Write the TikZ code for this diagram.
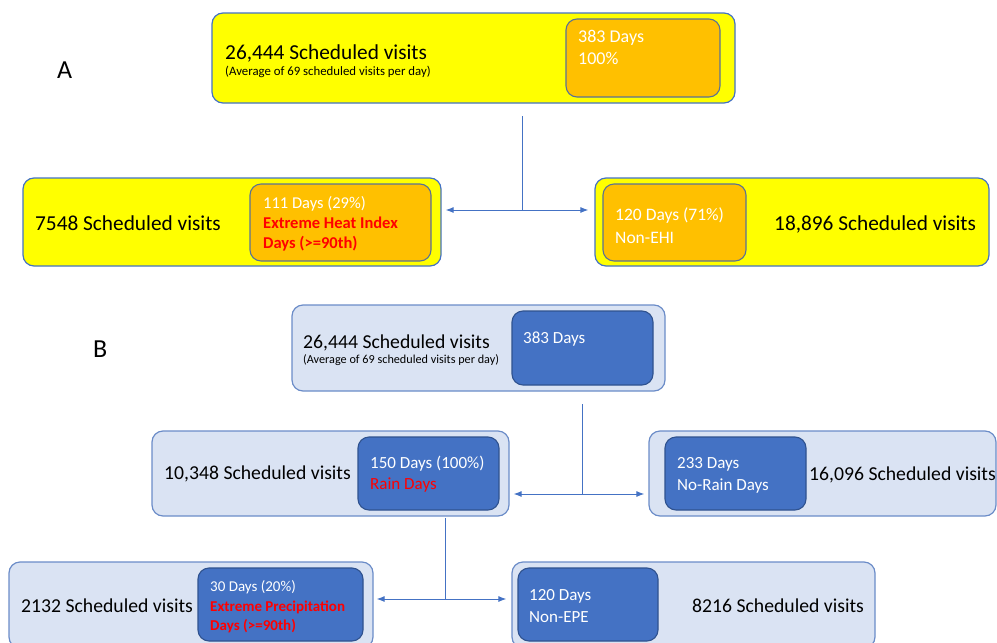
\documentclass[tikz,border=0pt]{standalone}
\usepackage{fontspec}
\setmainfont{Carlito}
\usetikzlibrary{arrows.meta}
\definecolor{boxyellow}{HTML}{FFFF00}
\definecolor{boxorange}{HTML}{FFC000}
\definecolor{paleblue}{HTML}{DAE3F3}
\definecolor{midblue}{HTML}{4472C4}
\definecolor{darkedge}{HTML}{2F528F}
\definecolor{grayedge}{HTML}{5A7294}
\definecolor{lightedge}{HTML}{6B8CC8}
\definecolor{warnred}{HTML}{FF0000}
\newcommand{\fsz}[1]{\fontsize{#1}{#1}\selectfont}

\begin{document}
\begin{tikzpicture}[x=1pt, y=-1pt,
  outerA/.style={draw=midblue, fill=boxyellow, line width=1.2pt, rounded corners=11pt, inner sep=0pt},
  innerA/.style={draw=grayedge, fill=boxorange, line width=1.1pt, rounded corners=11pt, inner sep=0pt},
  outerB/.style={draw=lightedge, fill=paleblue, line width=1.2pt, rounded corners=11pt, inner sep=0pt},
  innerB/.style={draw=darkedge, fill=midblue, line width=1.1pt, rounded corners=11pt, inner sep=0pt},
  txt/.style={anchor=base west, inner sep=0pt},
  visA/.style={txt, font=\fsz{21.3}},
  visB/.style={txt, font=\fsz{19.7}},
  noteA/.style={txt, font=\fsz{12.8}},
  noteB/.style={txt, font=\fsz{12.2}},
  dayA/.style={txt, white, font=\fsz{17.5}},
  dayB/.style={txt, white, font=\fsz{17}},
  dayS/.style={txt, white, font=\fsz{15.5}},
  warn/.style={txt, warnred, font=\bfseries\fsz{16}},
  panel/.style={txt, font=\fsz{26}},
  link/.style={draw=midblue, line width=1pt},
  twoway/.style={link, -{Latex[length=8pt,width=6pt]}}]
\useasboundingbox (0,0) rectangle (997,643);
\clip (0,0) rectangle (997,643);

% panel A
\node[panel] (labA) at (57,78) {A};
\node[outerA, minimum width=523pt, minimum height=90pt] (topA) at (473.5,58) {};
\node[innerA, minimum width=154pt, minimum height=78pt] (topAin) at (643,58) {};
\node[visA] (visA1) at (225,59) {26,444 Scheduled visits};
\node[noteA] (avgA) at (225,75) {(Average of 69 scheduled visits per day)};
\node[dayA, font=\fsz{18}] (daysA) at (578,42) {383 Days};
\node[dayA, font=\fsz{18}] (pctA) at (578,64) {100\%};

\node[outerA, minimum width=418pt, minimum height=88pt] (leftA) at (232,222) {};
\node[innerA, minimum width=181pt, minimum height=77pt] (leftAin) at (340.5,222.5) {};
\node[visA] (visA2) at (35,230) {7548 Scheduled visits};
\node[dayA, font=\fsz{16.5}] (daysA2) at (263,208) {111 Days (29\%)};
\node[warn, font=\bfseries\fsz{16.5}] (ehiA1) at (263,228) {Extreme Heat Index};
\node[warn, font=\bfseries\fsz{16.5}] (ehiA2) at (263,248) {Days (>=90th)};

\node[outerA, minimum width=394pt, minimum height=88pt] (rightA) at (792,222) {};
\node[innerA, minimum width=143pt, minimum height=77pt] (rightAin) at (674.5,222.5) {};
\node[dayA] (daysA3) at (615,220) {120 Days (71\%)};
\node[dayA] (nonA) at (615,243) {Non-EHI};
\node[visA] (visA3) at (774,230) {18,896 Scheduled visits};

\coordinate (stemA) at (522,116);
\coordinate (jA) at (522,210);
\draw[link] (stemA) -- (jA);
\draw[twoway, shorten >=4pt] (jA) -- (leftA.east |- jA);
\draw[twoway, shorten >=6pt] (jA) -- (rightA.west |- jA);

% panel B
\node[panel] (labB) at (93,357) {B};
\node[outerB, minimum width=373pt, minimum height=86pt] (topB) at (478.5,348) {};
\node[innerB, minimum width=141pt, minimum height=74pt] (topBin) at (582.5,348) {};
\node[visB] (visB1) at (303,348) {26,444 Scheduled visits};
\node[noteB] (avgB) at (303,363) {(Average of 69 scheduled visits per day)};
\node[dayB] (daysB) at (523,343) {383 Days};

\node[outerB, minimum width=357pt, minimum height=85pt] (leftB) at (330.5,473.5) {};
\node[innerB, minimum width=141pt, minimum height=73pt] (leftBin) at (428.5,473.5) {};
\node[visB] (visB2) at (164,479) {10,348 Scheduled visits};
\node[dayB] (daysB2) at (370,468) {150 Days (100\%)};
\node[txt, warnred, font=\fsz{17}] (rainB) at (370,489) {Rain Days};

\node[outerB, minimum width=347pt, minimum height=85pt] (rightB) at (822.5,473.5) {};
\node[innerB, minimum width=141pt, minimum height=73pt] (rightBin) at (735.5,473.5) {};
\node[dayB] (daysB3) at (677,468) {233 Days};
\node[dayB] (norainB) at (677,490) {No-Rain Days};
\node[visB] (visB3) at (809,480) {16,096 Scheduled visits};

\coordinate (stemB) at (582,404);
\coordinate (jB) at (582,494);
\draw[link] (stemB) -- (jB);
\draw[twoway, shorten >=4pt] (jB) -- (leftB.east |- jB);
\draw[twoway, shorten >=4pt] (jB) -- (rightB.west |- jB);

\node[outerB, minimum width=364pt, minimum height=86pt] (botleftB) at (191,605) {};
\node[innerB, minimum width=165pt, minimum height=73pt] (botleftBin) at (280.5,604.5) {};
\node[visB] (visB4) at (21,612) {2132 Scheduled visits};
\node[dayS, font=\fsz{15}] (daysB4) at (210,591) {30 Days (20\%)};
\node[warn, font=\bfseries\fsz{15}] (epeB1) at (210,611) {Extreme Precipitation};
\node[warn, font=\bfseries\fsz{15}] (epeB2) at (210,630) {Days (>=90th)};

\node[outerB, minimum width=363pt, minimum height=86pt] (botrightB) at (693.5,605) {};
\node[innerB, minimum width=140pt, minimum height=73pt] (botrightBin) at (588,604.5) {};
\node[dayB] (daysB5) at (529,600) {120 Days};
\node[dayB] (nonB) at (529,622) {Non-EPE};
\node[visB] (visB5) at (692,612) {8216 Scheduled visits};

\coordinate (stemC) at (445,518);
\coordinate (jC) at (445,599);
\draw[link] (stemC) -- (jC);
\draw[twoway, shorten >=3pt] (jC) -- (botleftB.east |- jC);
\draw[twoway, shorten >=5pt] (jC) -- (botrightB.west |- jC);
\end{tikzpicture}
\end{document}
